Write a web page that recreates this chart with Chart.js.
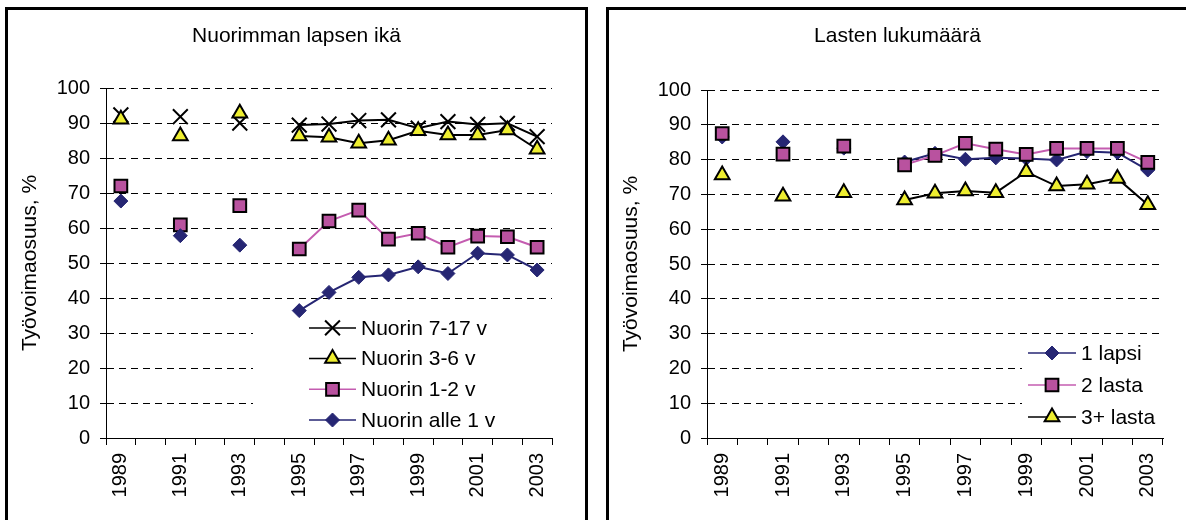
<!doctype html>
<html lang="fi">
<head>
<meta charset="utf-8">
<title>Työvoimaosuus</title>
<script src="https://cdn.jsdelivr.net/npm/chart.js"></script>
<style>
    body { margin:0; background:#fff; width:1186px; height:520px; overflow:hidden; position:relative; }
    .panel { position:absolute; top:7px; width:577px; height:530px; border:3px solid #000; background:#fff; }
    .panel div { position:relative; width:577px; height:520px; }
    #p1 { left:5px; }
    #p2 { left:606px; }
</style>
<script>
// vuodet (1990, 1992 ja 1994 puuttuvat)
const years = ['1989','1990','1991','1992','1993','1994','1995','1996','1997','1998','1999','2000','2001','2002','2003'];

// Nuorimman lapsen ikä
const young717   = [92.3, null, 91.8, null, 90.0, null, 89.4, 89.7, 90.7, 90.9, 88.5, 90.4, 89.6, 89.9, 86.1];
const young36    = [91.1, null, 86.3, null, 92.8, null, 86.3, 85.9, 84.2, 85.1, 87.8, 86.6, 86.6, 88.0, 82.5];
const young12    = [72.0, null, 60.9, null, 66.4, null, 54.0, 62.0, 65.1, 56.8, 58.5, 54.5, 57.7, 57.5, 54.5];
const youngUnder1= [67.7, null, 57.8, null, 55.1, null, 36.4, 41.6, 45.9, 46.6, 48.9, 47.0, 52.8, 52.3, 48.0];

// Lasten lukumäärä
const oneChild   = [86.5, null, 85.1, null, 83.3, null, 79.3, 81.8, 80.1, 80.5, 80.3, 79.9, 82.3, 82.0, 77.0];
const twoChild   = [87.5, null, 81.6, null, 83.9, null, 78.5, 81.2, 84.7, 83.0, 81.5, 83.2, 83.2, 83.2, 79.2];
const threeChild = [75.6, null, 69.5, null, 70.5, null, 68.4, 70.3, 71.0, 70.5, 76.5, 72.4, 72.9, 74.6, 67.0];

const NAVY = '#262673', PINK_LINE = '#c45cb0', PINK = '#b9529f', YELLOW = '#eeee30';

Chart.defaults.font.family = '"Liberation Sans", Arial, sans-serif';
Chart.defaults.color = '#000';

// kuvaselite kuva-alueen sisällä, valkoinen tausta peittää apuviivat
const boxLegend = {
    id: 'boxLegend',
    beforeDatasetsDraw(chart, args, o) {
        const a = chart.chartArea, ctx = chart.ctx;
        ctx.save();
        ctx.fillStyle = '#fff';
        ctx.fillRect(a.right - o.boxW, a.bottom - o.boxH, o.boxW + 2, o.boxH - 2);
        ctx.restore();
    },
    afterDatasetsDraw(chart, args, o) {
        const a = chart.chartArea, ctx = chart.ctx;
        const ds = chart.data.datasets;
        const n = ds.length;
        ds.forEach((d, i) => {
            const y = a.bottom - o.lastRow - (n - 1 - i) * o.rowH;
            const x0 = a.right - o.lineFromRight;
            const x1 = x0 + o.lineLen;
            const xm = (x0 + x1) / 2;
            ctx.save();
            ctx.strokeStyle = d.borderColor;
            ctx.lineWidth = 1.5;
            ctx.beginPath();
            ctx.moveTo(x0, y);
            ctx.lineTo(x1, y);
            ctx.stroke();
            ctx.fillStyle = d.pointBackgroundColor;
            ctx.strokeStyle = d.pointBorderColor;
            ctx.lineWidth = d.pointBorderWidth;
            Chart.helpers.drawPoint(ctx, {pointStyle: d.pointStyle, radius: d.pointRadius, rotation: 0, borderWidth: d.pointBorderWidth}, xm, y);
            ctx.fillStyle = '#000';
            ctx.font = '21px "Liberation Sans", Arial, sans-serif';
            ctx.textBaseline = 'middle';
            ctx.textAlign = 'left';
            ctx.fillText(d.label, x1 + 5, y + 1);
            ctx.restore();
        });
    }
};

function makeChart(id, title, datasets, cfg) {
    return new Chart(document.getElementById(id), {
        type: 'line',
        data: { labels: years, datasets: datasets },
        plugins: [boxLegend],
        options: {
            responsive: true,
            maintainAspectRatio: false,
            animation: false,
            spanGaps: false,
            layout: { padding: 0 },
            plugins: {
                legend: { display: false },
                tooltip: { enabled: false },
                title: {
                    display: true,
                    text: title,
                    color: '#000',
                    font: { size: 21, weight: 'normal' },
                    padding: { top: 14, bottom: cfg.titleBottom }
                },
                boxLegend: cfg.legend
            },
            scales: {
                x: {
                    type: 'category',
                    offset: true,
                    grid: { offset: true, drawOnChartArea: false, drawTicks: true, tickLength: 7, color: '#000', tickColor: '#000' },
                    border: { display: true, color: '#000', width: 1 },
                    ticks: {
                        autoSkip: false, maxRotation: 90, minRotation: 90, padding: 8,
                        color: '#000', font: { size: 20 },
                        callback: (v, i) => i % 2 === 0 ? years[i] : ''
                    },
                    afterFit: s => { s.height = 92; }
                },
                y: {
                    min: 0, max: 100,
                    ticks: { stepSize: 10, padding: 10, color: '#000', font: { size: 20 } },
                    grid: { color: '#000', tickColor: '#000', tickLength: 6, lineWidth: 1, tickBorderDash: [] },
                    border: { display: true, color: '#000', width: 1, dash: [7, 5] },
                    title: {
                        display: true, text: 'Työvoimaosuus, %', color: '#000',
                        font: { size: 21 }, padding: { top: 10, bottom: 0 }
                    },
                    afterFit: s => { s.width = 98; }
                },
                // tyhjä tila oikealla, jotta otsikko pysyy keskellä
                gap: {
                    type: 'linear', position: 'right', display: true,
                    grid: { display: false, drawTicks: false }, border: { display: false },
                    ticks: { display: false },
                    afterFit: s => { s.width = cfg.padRight; }
                }
            }
        }
    });
}

function series(label, data, kind, order) {
    const base = { label: label, data: data, order: order, borderWidth: 2, pointHoverRadius: 0 };
    if (kind === 'cross') return Object.assign(base, { borderColor: '#000', pointStyle: 'crossRot', pointRadius: 10.5, pointBorderColor: '#000', pointBackgroundColor: '#000', pointBorderWidth: 2 });
    if (kind === 'tri') return Object.assign(base, { borderColor: '#000', pointStyle: 'triangle', pointRadius: 8.5, pointBorderColor: '#000', pointBackgroundColor: YELLOW, pointBorderWidth: 2 });
    if (kind === 'sq') return Object.assign(base, { borderColor: PINK_LINE, pointStyle: 'rect', pointRadius: 9, pointBorderColor: '#000', pointBackgroundColor: PINK, pointBorderWidth: 2 });
    return Object.assign(base, { borderColor: NAVY, pointStyle: 'rectRot', pointRadius: 7, pointBorderColor: NAVY, pointBackgroundColor: NAVY, pointBorderWidth: 1 });
}

window.addEventListener('load', () => {
    makeChart('chart-0', 'Nuorimman lapsen ikä', [
        series('Nuorin 7-17 v', young717, 'cross', 3),
        series('Nuorin 3-6 v', young36, 'tri', 2),
        series('Nuorin 1-2 v', young12, 'sq', 1),
        series('Nuorin alle 1 v', youngUnder1, 'dia', 0)
    ], {
        padRight: 33, titleBottom: 38.8,
        legend: { boxW: 299, boxH: 128, rowH: 30.7, lastRow: 18, lineFromRight: 243, lineLen: 47 }
    });
    makeChart('chart-1', 'Lasten lukumäärä', [
        series('1 lapsi', oneChild, 'dia', 2),
        series('2 lasta', twoChild, 'sq', 1),
        series('3+ lasta', threeChild, 'tri', 0)
    ], {
        padRight: 23, titleBottom: 40.8,
        legend: { boxW: 141, boxH: 98, rowH: 32, lastRow: 21, lineFromRight: 135, lineLen: 48 }
    });
});
</script>
</head>
<body>
    <div class="panel" id="p1"><div><canvas id="chart-0"></canvas></div></div>
    <div class="panel" id="p2"><div><canvas id="chart-1"></canvas></div></div>
</body>
</html>
